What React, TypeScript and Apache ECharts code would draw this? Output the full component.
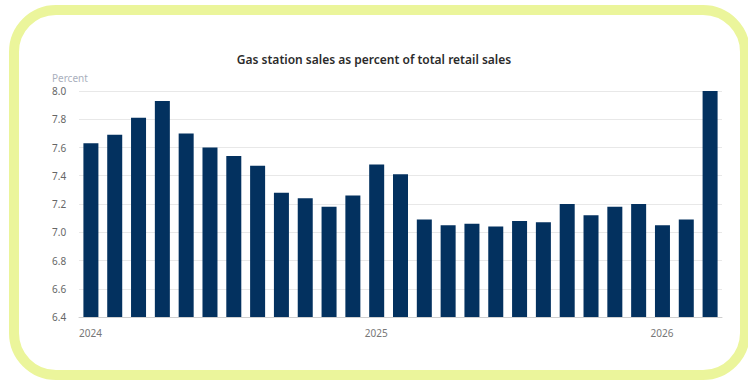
import React, { useEffect, useRef } from "react";
import * as echarts from "echarts";

const categories: string[] = [
  "2024-01", "2024-02", "2024-03", "2024-04", "2024-05", "2024-06", "2024-07", "2024-08", "2024-09",
  "2024-10", "2024-11", "2024-12", "2025-01", "2025-02", "2025-03", "2025-04", "2025-05", "2025-06",
  "2025-07", "2025-08", "2025-09", "2025-10", "2025-11", "2025-12", "2026-01", "2026-02", "2026-03",
];

const gasShare: number[] = [
  7.63, 7.69, 7.81, 7.93, 7.70, 7.60, 7.54, 7.47, 7.28,
  7.24, 7.18, 7.26, 7.48, 7.41, 7.09, 7.05, 7.06, 7.04,
  7.08, 7.07, 7.20, 7.12, 7.18, 7.20, 7.05, 7.09, 8.0,
];

// Year labels placed at category boundaries (28 boundaries for 27 months)
const yearBoundaryLabels: string[] = [
  "2024", "", "", "", "", "", "", "", "", "", "", "", "2025", "", "", "", "", "", "", "", "", "", "", "",
  "2026", "", "", "",
];

const yTicks = { min: 6.4, max: 8.0, interval: 0.2 };

export default function App() {
  const ref = useRef<HTMLDivElement>(null);
  useEffect(() => {
    if (!ref.current) return;
    const chart = echarts.init(ref.current, null, { renderer: "svg" });
    chart.setOption({
      animation: false,
      backgroundColor: "#ffffff",
      graphic: [
        {
          type: "rect",
          shape: { x: 14, y: 10, width: 731, height: 365, r: 42 },
          style: { fill: "none", stroke: "#ebf59b", lineWidth: 10 },
          z: 0,
        },
        {
          type: "text",
          left: 52,
          top: 73,
          style: { text: "Percent", fill: "#aab0bd", font: '10px "Noto Sans"' },
        },
      ],
      title: {
        text: "Gas station sales as percent of total retail sales",
        left: "center",
        top: 48,
        textStyle: {
          fontFamily: "Noto Sans",
          fontSize: 12,
          fontWeight: 600,
          color: "#2b2b2b",
        },
      },
      grid: { left: 79, right: 26, top: 91, bottom: 64, containLabel: false },
      xAxis: [
        {
          type: "category",
          data: categories,
          axisLine: { show: true, lineStyle: { color: "#cfcfcf" } },
          axisTick: { show: false },
          axisLabel: { show: false },
        },
        {
          type: "category",
          data: yearBoundaryLabels,
          boundaryGap: false,
          position: "bottom",
          axisLine: { show: false },
          axisTick: { show: false },
          axisLabel: {
            interval: 0,
            align: "left",
            margin: 11,
            color: "#777777",
            fontFamily: "Noto Sans",
            fontSize: 10,
          },
        },
      ],
      yAxis: {
        type: "value",
        min: yTicks.min,
        max: yTicks.max,
        interval: yTicks.interval,
        axisLine: { show: false },
        axisTick: { show: false },
        splitLine: { lineStyle: { color: "#e8e8e8" } },
        axisLabel: {
          align: "left",
          margin: 27,
          color: "#666666",
          fontFamily: "Noto Sans",
          fontSize: 10,
          formatter: (v: number) => v.toFixed(1),
        },
      },
      series: [
        {
          type: "bar",
          data: gasShare,
          xAxisIndex: 0,
          barWidth: 15,
          itemStyle: { color: "#03315f" },
        },
      ],
    });
    return () => chart.dispose();
  }, []);
  return <div ref={ref} style={{ width: 748, height: 381, position: "absolute", left: 0, top: 0 }} />;
}
